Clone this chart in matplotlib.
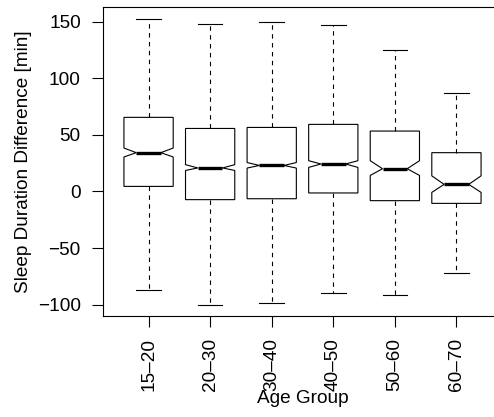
import matplotlib.pyplot as plt
import numpy as np

plt.rcParams['font.family'] = ['Liberation Sans', 'DejaVu Sans']

groups = ["15\u201320", "20\u201330", "30\u201340", "40\u201350", "50\u201360", "60\u201370"]
whislo = [-87.0, -100.0, -98.2, -89.7, -91.8, -72.3]
q1 = [4.5, -7.2, -6.4, -1.3, -8.1, -10.5]
med = [34.3, 20.8, 23.0, 24.3, 20.1, 6.3]
q3 = [65.5, 55.7, 56.6, 59.3, 53.4, 34.3]
whishi = [152.6, 147.6, 149.7, 146.7, 124.6, 86.7]
ci_lo = [30.5, 18.6, 20.7, 21.3, 14.2, -0.8]
ci_hi = [38.4, 23.7, 25.6, 27.2, 27.2, 13.8]

stats = []
for i, g in enumerate(groups):
    stats.append(dict(label=g, whislo=whislo[i], q1=q1[i], med=med[i], q3=q3[i],
                      whishi=whishi[i], cilo=ci_lo[i], cihi=ci_hi[i], fliers=[]))

fig = plt.figure(figsize=(4.94, 4.17), dpi=100)
ax = fig.add_axes([103 / 494, (417 - 316) / 417, (502 - 103) / 494, (316 - 7) / 417])

lw = 0.8
ax.bxp(stats, positions=np.arange(1, 7), widths=0.8, shownotches=True,
       showfliers=False, patch_artist=True,
       boxprops=dict(facecolor="white", edgecolor="black", linewidth=lw),
       whiskerprops=dict(color="black", linewidth=lw, linestyle=(0, (4, 4))),
       capprops=dict(color="black", linewidth=lw),
       medianprops=dict(color="black", linewidth=2.4, solid_capstyle="butt"))

fs = 13.7
ax.set_xlim(0.26, 6.74)
ax.set_ylim(-110, 163)
ax.set_yticks([-100, -50, 0, 50, 100, 150])
ax.set_yticklabels(["\u2212100", "\u221250", "0", "50", "100", "150"])
ax.set_xticks(np.arange(1, 7))
ax.set_xticklabels(groups, rotation=90)
ax.tick_params(axis="both", length=8, width=lw, labelsize=fs, color="black")
ax.tick_params(axis="x", pad=8)
ax.tick_params(axis="y", pad=8)
for s in ax.spines.values():
    s.set_linewidth(lw)

ax.set_ylabel("Sleep Duration Difference [min]", fontsize=fs)
ax.yaxis.set_label_coords(-0.178, 0.5)
ax.set_xlabel("Age Group", fontsize=fs)
ax.xaxis.set_label_coords(0.5, -0.24)

fig.savefig("out.png", dpi=100)
